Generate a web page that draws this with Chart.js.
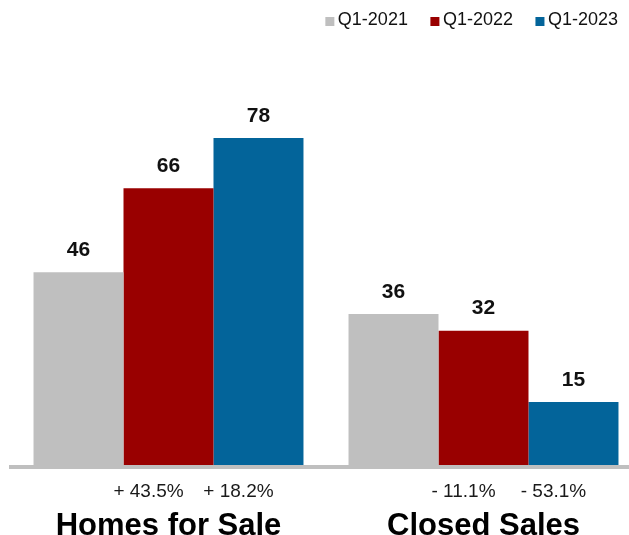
<!DOCTYPE html>
<html>
<head>
<meta charset="utf-8">
<script src="https://cdn.jsdelivr.net/npm/chart.js@4/dist/chart.umd.min.js"></script>
<style>
  html, body { margin: 0; padding: 0; background: #fff; overflow: hidden; }
  /* the plot runs a little past the right edge, so the canvas is wider than the frame */
  #wrap { width: 629px; height: 535px; overflow: hidden; }
  #salesChart { display: block; }
</style>
</head>
<body>
<div id="wrap"><canvas id="salesChart" width="641" height="535"></canvas></div>
<script>
// --------------------------------------
// 1. Data
// --------------------------------------
const categories = ["Homes for Sale", "Closed Sales"];
const seriesNames = ["Q1-2021", "Q1-2022", "Q1-2023"];
const q12021 = [46, 36];
const q12022 = [66, 32];
const q12023 = [78, 15];
// year-over-year change, printed under the 2022 and 2023 bars
const change2022 = ["+ 43.5%", "- 11.1%"];
const change2023 = ["+ 18.2%", "- 53.1%"];

const seriesColors = ["#bfbfbf", "#990000", "#03649a"];
const FONT = "'Liberation Sans', Arial, Helvetica, sans-serif";
const LEGEND_SQUARE = 9;

// --------------------------------------
// 2. Label plugins
// --------------------------------------
const valueLabels = {
    id: "valueLabels",
    afterDatasetsDraw(chart) {
        const ctx = chart.ctx;
        ctx.save();
        ctx.font = "bold 21px " + FONT;
        ctx.fillStyle = "#111";
        ctx.textAlign = "center";
        ctx.textBaseline = "alphabetic";
        chart.data.datasets.forEach((ds, i) => {
            chart.getDatasetMeta(i).data.forEach((bar, j) => {
                ctx.fillText(String(ds.data[j]), bar.x, bar.y - 16.5);
            });
        });
        ctx.restore();
    }
};

const changeLabels = {
    id: "changeLabels",
    afterDraw(chart) {
        const ctx = chart.ctx;
        const rows = [null, change2022, change2023];
        ctx.save();
        ctx.font = "19px " + FONT;
        ctx.fillStyle = "#1a1a1a";
        ctx.textAlign = "center";
        ctx.textBaseline = "alphabetic";
        for (let i = 1; i < rows.length; i++) {
            chart.getDatasetMeta(i).data.forEach((bar, j) => {
                ctx.fillText(rows[i][j], bar.x - 20, chart.chartArea.bottom + 30);
            });
        }
        ctx.restore();
    }
};

// small squares sitting tight against the legend text
const legendSquares = {
    id: "legendSquares",
    afterDraw(chart) {
        const legend = chart.legend;
        if (!legend || !legend.legendHitBoxes) return;
        const ctx = chart.ctx;
        ctx.save();
        legend.legendHitBoxes.forEach((box, i) => {
            const item = legend.legendItems[i];
            ctx.fillStyle = item.fillStyle;
            ctx.fillRect(box.left - 3.5, box.top + box.height / 2 - 3.5, LEGEND_SQUARE, LEGEND_SQUARE);
        });
        ctx.restore();
    }
};

// --------------------------------------
// 3. Chart
// --------------------------------------
const datasets = [q12021, q12022, q12023].map((values, i) => ({
    label: seriesNames[i],
    data: values,
    backgroundColor: seriesColors[i],
    borderWidth: 0,
    categoryPercentage: 0.857,
    barPercentage: 1.0
}));

new Chart(document.getElementById("salesChart").getContext("2d"), {
    type: "bar",
    data: { labels: categories, datasets: datasets },
    options: {
        responsive: false,
        animation: false,
        events: [],
        layout: { padding: { top: -14.5, left: 11, right: -3, bottom: 0 } },
        plugins: {
            tooltip: { enabled: false },
            legend: {
                position: "top",
                align: "end",
                labels: {
                    font: { family: FONT, size: 18 },
                    color: "#111",
                    boxWidth: 0,
                    boxHeight: 0,
                    padding: 26
                }
            }
        },
        scales: {
            x: {
                grid: { display: false, drawTicks: false },
                border: { display: true, color: "#bfbfbf", width: 4 },
                ticks: {
                    font: { family: FONT, size: 31, weight: "bold" },
                    color: "#000",
                    padding: 41,
                    maxRotation: 0,
                    autoSkip: false
                },
                afterFit(scale) { scale.height = 68; }
            },
            y: {
                display: false,
                min: -0.48,
                max: 101.5
            }
        }
    },
    plugins: [valueLabels, changeLabels, legendSquares]
});
</script>
</body>
</html>
